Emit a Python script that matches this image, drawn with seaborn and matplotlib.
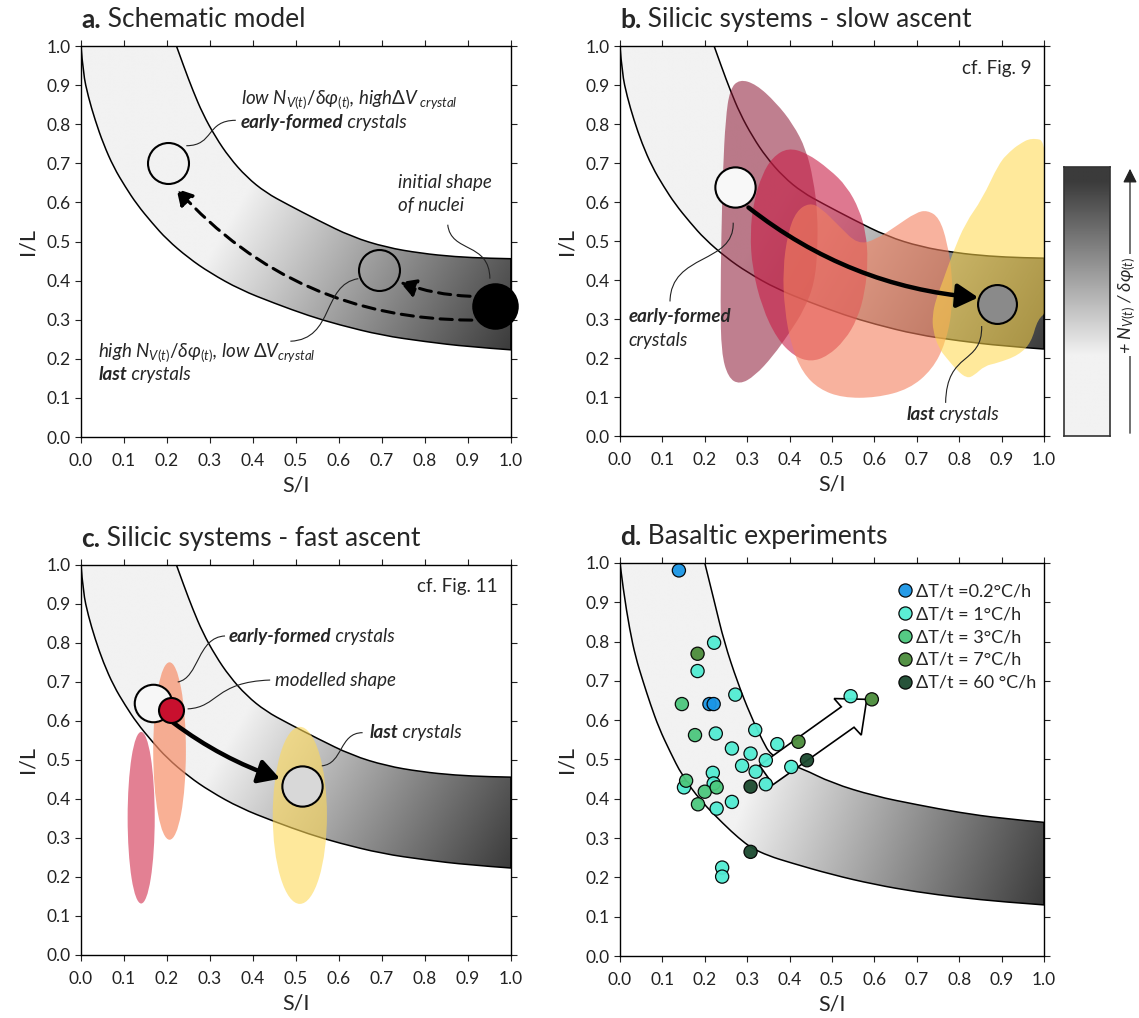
import numpy as np
import pandas as pd
import matplotlib
matplotlib.use("Agg")
import matplotlib.pyplot as plt
import seaborn as sns
from matplotlib.patches import PathPatch, Ellipse, FancyArrowPatch, Polygon
from matplotlib.path import Path
from matplotlib.colors import LinearSegmentedColormap

# ---------------------------------------------------------------- data
TICKS = [0.0, 0.1, 0.2, 0.3, 0.4, 0.5, 0.6, 0.7, 0.8, 0.9, 1.0]

# band used in panels a, b, c
BAND_LOW_X = [0.0, 0.005, 0.017, 0.033, 0.052, 0.076, 0.103, 0.13, 0.165, 0.2, 0.25,
              0.3, 0.37, 0.45, 0.53, 0.6, 0.7, 0.8, 0.9, 1.0]
BAND_LOW_Y = [1.0, 0.93, 0.87, 0.81, 0.75, 0.69, 0.64, 0.595, 0.548, 0.505, 0.458,
              0.42, 0.377, 0.342, 0.31, 0.287, 0.26, 0.244, 0.231, 0.223]
BAND_UP_X = [0.222, 0.24, 0.26, 0.283, 0.313, 0.345, 0.385, 0.43, 0.48, 0.55, 0.63,
             0.71, 0.79, 0.87, 0.95, 1.0]
BAND_UP_Y = [1.0, 0.945, 0.887, 0.827, 0.767, 0.715, 0.665, 0.625, 0.595, 0.555, 0.512,
             0.485, 0.47, 0.461, 0.457, 0.456]

# band used in panel d
BAND_D_LOW_X = [0.0, 0.008, 0.023, 0.037, 0.054, 0.072, 0.092, 0.118, 0.146, 0.19, 0.245,
                0.28, 0.31, 0.35, 0.4, 0.5, 0.6, 0.7, 0.8, 0.9, 1.0]
BAND_D_LOW_Y = [1.0, 0.93, 0.83, 0.76, 0.70, 0.64, 0.58, 0.52, 0.46, 0.395, 0.335,
                0.3, 0.275, 0.255, 0.238, 0.207, 0.182, 0.163, 0.149, 0.138, 0.13]
BAND_D_UP_X = [0.2, 0.223, 0.246, 0.277, 0.308, 0.338, 0.354, 0.39, 0.428, 0.5, 0.6,
               0.7, 0.8, 0.9, 1.0]
BAND_D_UP_Y = [1.0, 0.9, 0.798, 0.697, 0.612, 0.544, 0.514, 0.49, 0.478, 0.44, 0.407,
               0.385, 0.365, 0.35, 0.34]

# panel b regions (S/I, I/L outlines)
MAUVE_X = [0.282, 0.321, 0.368, 0.408, 0.439, 0.456, 0.466, 0.466, 0.459, 0.435, 0.4,
           0.361, 0.318, 0.282, 0.255, 0.239, 0.237, 0.239, 0.243, 0.249, 0.259]
MAUVE_Y = [0.915, 0.902, 0.855, 0.8, 0.735, 0.658, 0.573, 0.479, 0.393, 0.325, 0.265,
           0.205, 0.154, 0.132, 0.15, 0.214, 0.342, 0.513, 0.684, 0.812, 0.889]
CRIMSON_X = [0.396, 0.44, 0.494, 0.535, 0.565, 0.58, 0.585, 0.578, 0.56, 0.53, 0.49,
             0.45, 0.41, 0.37, 0.335, 0.312, 0.307, 0.315, 0.335, 0.36]
CRIMSON_Y = [0.739, 0.726, 0.684, 0.64, 0.58, 0.52, 0.45, 0.37, 0.3, 0.245, 0.205,
             0.19, 0.205, 0.25, 0.33, 0.43, 0.52, 0.6, 0.67, 0.715]
SALMON_X = [0.447, 0.474, 0.517, 0.561, 0.604, 0.651, 0.698, 0.725, 0.753, 0.772, 0.784,
            0.784, 0.768, 0.737, 0.682, 0.604, 0.525, 0.47, 0.431, 0.404, 0.388, 0.384,
            0.396, 0.416]
SALMON_Y = [0.598, 0.585, 0.538, 0.491, 0.504, 0.538, 0.573, 0.579, 0.56, 0.496, 0.41,
            0.325, 0.239, 0.171, 0.12, 0.098, 0.098, 0.12, 0.162, 0.231, 0.325, 0.427,
            0.521, 0.577]
YELLOW_X = [0.97, 1.01, 1.01, 0.985, 0.97, 0.94, 0.89, 0.86, 0.835, 0.818, 0.795, 0.77,
            0.752, 0.738, 0.737, 0.745, 0.76, 0.785, 0.815, 0.854, 0.894, 0.92, 0.941]
YELLOW_Y = [0.765, 0.755, 0.32, 0.3, 0.24, 0.207, 0.187, 0.18, 0.155, 0.148, 0.168, 0.2,
            0.225, 0.27, 0.31, 0.35, 0.393, 0.47, 0.547, 0.607, 0.70, 0.73, 0.748]

# panel c ranges (centre S/I, centre I/L, width, height)
C_ELL_X = [0.14, 0.206, 0.509]
C_ELL_Y = [0.352, 0.523, 0.358]
C_ELL_W = [0.063, 0.076, 0.126]
C_ELL_H = [0.44, 0.455, 0.454]

# panel d experiments
D_RATES = ["ΔT/t =0.2°C/h", "ΔT/t = 1°C/h", "ΔT/t = 3°C/h", "ΔT/t = 7°C/h", "ΔT/t = 60 °C/h"]
D_COLORS = ["#1a96e6", "#52ecd3", "#4cc77d", "#4b8c3b", "#1b4a2f"]
D_X_02 = [0.139, 0.211, 0.221]
D_Y_02 = [0.981, 0.641, 0.641]
D_X_1 = [0.222, 0.183, 0.272, 0.226, 0.319, 0.371, 0.264, 0.308, 0.344, 0.288, 0.320,
         0.219, 0.404, 0.221, 0.344, 0.151, 0.264, 0.228, 0.241, 0.241, 0.544]
D_Y_1 = [0.797, 0.725, 0.665, 0.566, 0.575, 0.539, 0.528, 0.515, 0.498, 0.484, 0.469,
         0.466, 0.481, 0.439, 0.437, 0.429, 0.392, 0.375, 0.225, 0.202, 0.661]
D_X_3 = [0.146, 0.177, 0.156, 0.200, 0.228, 0.184]
D_Y_3 = [0.641, 0.562, 0.446, 0.418, 0.429, 0.386]
D_X_7 = [0.183, 0.421, 0.594]
D_Y_7 = [0.769, 0.545, 0.653]
D_X_60 = [0.308, 0.441, 0.308]
D_Y_60 = [0.431, 0.498, 0.265]
D_ARROW_X = [0.329, 0.522, 0.505, 0.582, 0.569, 0.552, 0.361]
D_ARROW_Y = [0.485, 0.634, 0.655, 0.653, 0.562, 0.582, 0.436]

# ---------------------------------------------------------------- style
sns.set_style("ticks")
plt.rcParams["font.family"] = ["Lato", "DejaVu Sans"]
plt.rcParams["mathtext.fontset"] = "custom"
plt.rcParams["mathtext.rm"] = "Lato"
plt.rcParams["mathtext.it"] = "Lato:italic"
plt.rcParams["mathtext.bf"] = "Lato:bold"
plt.rcParams["mathtext.fallback"] = "stixsans"
plt.rcParams["axes.edgecolor"] = "black"
plt.rcParams["xtick.color"] = "#222222"
plt.rcParams["ytick.color"] = "#222222"

GREY_CMAP = LinearSegmentedColormap.from_list("band", ["#f2f2f2", "#3b3b3b"])
ANN = 13.5


def smooth_open(xs, ys):
    pts = list(zip(xs, ys))
    verts, codes = [pts[0]], [Path.MOVETO]
    for i in range(1, len(pts) - 1):
        if i == len(pts) - 2:
            end = pts[-1]
        else:
            end = ((pts[i][0] + pts[i + 1][0]) / 2, (pts[i][1] + pts[i + 1][1]) / 2)
        verts += [pts[i], end]
        codes += [Path.CURVE3, Path.CURVE3]
    return verts, codes


def smooth_closed(xs, ys):
    pts = np.column_stack([xs, ys])
    mids = (pts + np.roll(pts, -1, axis=0)) / 2
    verts, codes = [mids[-1]], [Path.MOVETO]
    for i in range(len(pts)):
        verts += [pts[i], mids[i]]
        codes += [Path.CURVE3, Path.CURVE3]
    return Path(verts, codes)


def band_path(lx, ly, ux, uy):
    v1, c1 = smooth_open(lx, ly)
    v2, c2 = smooth_open(ux[::-1], uy[::-1])
    verts = v1 + [v2[0]] + v2[1:] + [(0, 0)]
    codes = c1 + [Path.LINETO] + c2[1:] + [Path.CLOSEPOLY]
    return Path(verts, codes)


def draw_band(ax, lx, ly, ux, uy, p0, p1, aspect=1.1):
    patch = PathPatch(band_path(lx, ly, ux, uy), facecolor="none", edgecolor="black",
                      lw=1.1, zorder=1.5)
    ax.add_patch(patch)
    gx, gy = np.meshgrid(np.linspace(0, 1, 500), np.linspace(0, 1, 500))
    dx = (p1[0] - p0[0]) * aspect
    dy = p1[1] - p0[1]
    t = ((gx - p0[0]) * aspect * dx + (gy - p0[1]) * dy) / (dx * dx + dy * dy)
    im = ax.imshow(np.clip(t, 0, 1), extent=(0, 1, 0, 1), origin="lower", cmap=GREY_CMAP,
                   vmin=0, vmax=1, aspect="auto", zorder=1, interpolation="bilinear")
    im.set_clip_path(patch)


def setup(ax, letter, title):
    ax.set_xlim(0, 1)
    ax.set_ylim(0, 1)
    ax.set_xticks(TICKS)
    ax.set_yticks(TICKS)
    ax.xaxis.set_major_formatter("{x:.1f}")
    ax.yaxis.set_major_formatter("{x:.1f}")
    ax.tick_params(direction="out", length=4.5, width=0.8, top=True, right=True,
                   labelsize=12.5)
    ax.tick_params(axis="x", pad=7)
    ax.tick_params(axis="y", pad=3)
    ax.set_xlabel("S/I", fontsize=15.5, labelpad=5)
    ax.set_ylabel("I/L", fontsize=15.5, labelpad=6)
    for s in ax.spines.values():
        s.set_linewidth(1.0)
        s.set_zorder(5)
    t = ax.text(0.0, 1.045, letter + ".", transform=ax.transAxes, fontsize=19,
                fontweight="bold", ha="left", va="baseline")
    ax.annotate(" " + title, xy=(1, 0), xycoords=t, fontsize=19, ha="left", va="bottom")


def leader(ax, p0, c1, c2, p3):
    path = Path([p0, c1, c2, p3], [Path.MOVETO, Path.CURVE4, Path.CURVE4, Path.CURVE4])
    ax.add_patch(PathPatch(path, facecolor="none", edgecolor="#222222", lw=0.8, zorder=6))


def two_part(ax, x, y, first, rest, size=ANN):
    t = ax.text(x, y, first, fontsize=size, fontweight="bold", style="italic",
                ha="left", va="center", zorder=7)
    ax.annotate(rest, xy=(1, 0), xycoords=t, fontsize=size, style="italic",
                ha="left", va="bottom", zorder=7)


def arrow(ax, start, tip, rad, lw, ms, hl, hw, dashed=False):
    props = dict(arrowstyle=f"-|>,head_length={hl},head_width={hw}",
                 connectionstyle=f"arc3,rad={rad}", lw=lw, color="black",
                 shrinkA=0, shrinkB=0, mutation_scale=ms)
    if dashed:
        props["linestyle"] = (0, (4, 2.4))
    ax.annotate("", xy=tip, xytext=start, arrowprops=props, zorder=6)


def circle(ax, x, y, ms, fc, mew=1.5):
    ax.plot([x], [y], "o", ms=ms, mfc=fc, mec="black", mew=mew, zorder=6, clip_on=False)


fig = plt.figure(figsize=(11.39, 10.18), dpi=100)
ax_a = fig.add_axes([0.0711, 0.5707, 0.3775, 0.3841])
ax_b = fig.add_axes([0.5443, 0.5717, 0.3723, 0.3831])
ax_c = fig.add_axes([0.0711, 0.0619, 0.3775, 0.3831])
ax_d = fig.add_axes([0.5443, 0.0609, 0.3723, 0.3861])
cax = fig.add_axes([1064 / 1139, 1 - 436 / 1018, 46 / 1139, 269 / 1018])

# ---------------------------------------------------------------- a
ax = ax_a
draw_band(ax, BAND_LOW_X, BAND_LOW_Y, BAND_UP_X, BAND_UP_Y, (0.38, 0.62), (1.0, 0.22))
arrow(ax, (0.909, 0.299), (0.222, 0.635), -0.22, 2.2, 12, 0.8, 0.45, dashed=True)
arrow(ax, (0.905, 0.36), (0.742, 0.396), -0.08, 2.2, 12, 0.8, 0.45, dashed=True)
circle(ax, 0.203, 0.701, 29.5, "none")
circle(ax, 0.692, 0.426, 29.5, "none")
circle(ax, 0.964, 0.334, 32, "black")
ax.text(0.371, 0.863, r"low $N_{V(t)}/\delta\varphi_{(t)}$, high$\Delta V_{\ crystal}$",
        fontsize=ANN, style="italic", va="center")
two_part(ax, 0.371, 0.805, "early-formed", " crystals")
ax.text(0.737, 0.652, "initial shape", fontsize=ANN, style="italic", va="center")
ax.text(0.737, 0.592, "of nuclei", fontsize=ANN, style="italic", va="center")
ax.text(0.04, 0.215, r"high $N_{V(t)}/\delta\varphi_{(t)}$, low $\Delta V_{crystal}$",
        fontsize=ANN, style="italic", va="center")
two_part(ax, 0.04, 0.16, "last", " crystals")
leader(ax, (0.245, 0.745), (0.31, 0.745), (0.29, 0.81), (0.36, 0.81))
leader(ax, (0.645, 0.405), (0.56, 0.39), (0.59, 0.25), (0.487, 0.245))
leader(ax, (0.853, 0.543), (0.86, 0.47), (0.95, 0.50), (0.951, 0.405))
setup(ax, "a", "Schematic model")

# ---------------------------------------------------------------- b
ax = ax_b
draw_band(ax, BAND_LOW_X, BAND_LOW_Y, BAND_UP_X, BAND_UP_Y, (0.38, 0.62), (1.0, 0.22))
for bx, by, col, al in [(MAUVE_X, MAUVE_Y, "#8c1633", 0.55),
                        (CRIMSON_X, CRIMSON_Y, "#c81e46", 0.6),
                        (SALMON_X, SALMON_Y, "#f4805e", 0.6),
                        (YELLOW_X, YELLOW_Y, "#ffd84a", 0.55)]:
    ax.add_patch(PathPatch(smooth_closed(bx, by), facecolor=col, edgecolor="none",
                           alpha=al, zorder=2))
arrow(ax, (0.303, 0.586), (0.845, 0.355), 0.15, 3.2, 16, 0.8, 0.45)
circle(ax, 0.271, 0.638, 29, "#f8f8f8")
circle(ax, 0.89, 0.338, 28, "#8a8a8a")
two_part(ax, 0.02, 0.306, "early-formed", "")
ax.text(0.02, 0.246, "crystals", fontsize=ANN, style="italic", va="center")
two_part(ax, 0.676, 0.056, "last", " crystals")
ax.text(0.97, 0.943, "cf. Fig. 9", fontsize=13.5, ha="right", va="center")
leader(ax, (0.267, 0.547), (0.27, 0.44), (0.12, 0.47), (0.118, 0.345))
leader(ax, (0.853, 0.282), (0.855, 0.18), (0.77, 0.22), (0.768, 0.085))
setup(ax, "b", "Silicic systems - slow ascent")

# ---------------------------------------------------------------- c
ax = ax_c
draw_band(ax, BAND_LOW_X, BAND_LOW_Y, BAND_UP_X, BAND_UP_Y, (0.38, 0.62), (1.0, 0.22))
for cx, cy, w, h, col, al in zip(C_ELL_X, C_ELL_Y, C_ELL_W, C_ELL_H,
                                 ["#d84a66", "#f78f69", "#fed958"], [0.7, 0.7, 0.6]):
    ax.add_patch(Ellipse((cx, cy), w, h, facecolor=col, edgecolor="none", alpha=al, zorder=2))
arrow(ax, (0.214, 0.596), (0.463, 0.452), 0.08, 3.2, 16, 0.8, 0.45)
circle(ax, 0.168, 0.647, 27, "#f7f7f7")
circle(ax, 0.209, 0.628, 18, "#c8102e")
circle(ax, 0.513, 0.433, 29, "#d8d8d8")
two_part(ax, 0.343, 0.816, "early-formed", " crystals")
ax.text(0.452, 0.703, "modelled shape", fontsize=ANN, style="italic", va="center")
two_part(ax, 0.671, 0.57, "last", " crystals")
ax.text(0.97, 0.946, "cf. Fig. 11", fontsize=13.5, ha="right", va="center")
leader(ax, (0.225, 0.70), (0.275, 0.71), (0.27, 0.815), (0.335, 0.818))
leader(ax, (0.248, 0.631), (0.32, 0.635), (0.31, 0.70), (0.44, 0.705))
leader(ax, (0.56, 0.485), (0.61, 0.49), (0.6, 0.57), (0.655, 0.57))
setup(ax, "c", "Silicic systems - fast ascent")

# ---------------------------------------------------------------- d
ax = ax_d
draw_band(ax, BAND_D_LOW_X, BAND_D_LOW_Y, BAND_D_UP_X, BAND_D_UP_Y, (0.3, 0.42), (1.0, 0.13))
ax.add_patch(Polygon(np.column_stack([D_ARROW_X, D_ARROW_Y]), closed=True,
                     facecolor="white", edgecolor="black", lw=1.2, zorder=2.5))
df = pd.concat([
    pd.DataFrame({"x": xs, "y": ys, "rate": r})
    for xs, ys, r in zip([D_X_02, D_X_1, D_X_3, D_X_7, D_X_60],
                         [D_Y_02, D_Y_1, D_Y_3, D_Y_7, D_Y_60], D_RATES)
], ignore_index=True)
sns.scatterplot(data=df, x="x", y="y", hue="rate", hue_order=D_RATES,
                palette=dict(zip(D_RATES, D_COLORS)), s=90, edgecolor="black",
                linewidth=0.9, alpha=0.95, zorder=4, ax=ax)
handles, labels = ax.get_legend_handles_labels()
ax.legend(handles, labels, loc="upper left", bbox_to_anchor=(0.65, 0.948), frameon=False,
          fontsize=13, handletextpad=0.15, labelspacing=0.38, borderaxespad=0,
          handlelength=1.0, borderpad=0)
setup(ax, "d", "Basaltic experiments")

# ---------------------------------------------------------------- scale bar
grad = np.clip((np.linspace(0, 1, 300) - 0.3) / 0.65, 0, 1)[:, None]
cax.imshow(grad, extent=(0, 1, 0, 1), origin="lower", cmap=GREY_CMAP, vmin=0, vmax=1,
           aspect="auto", interpolation="bilinear")
cax.set_xticks([])
cax.set_yticks([])
for s in cax.spines.values():
    s.set_linewidth(1.2)
    s.set_color("#333333")
xf = 1130 / 1139
fig.add_artist(FancyArrowPatch((xf, 1 - 436 / 1018), (xf, 1 - 166 / 1018),
                               transform=fig.transFigure, arrowstyle="-|>,head_length=0.6,head_width=0.3",
                               mutation_scale=14, lw=0.9, color="#222222"))
fig.text(1127 / 1139, 1 - 305 / 1018, r"+ $N_{V(t)}$ / $\delta\varphi_{(t)}$", rotation=90,
         fontsize=13, style="italic", ha="center", va="center",
         bbox=dict(facecolor="white", edgecolor="none", pad=1.5))

fig.savefig("out.png", dpi=100)
